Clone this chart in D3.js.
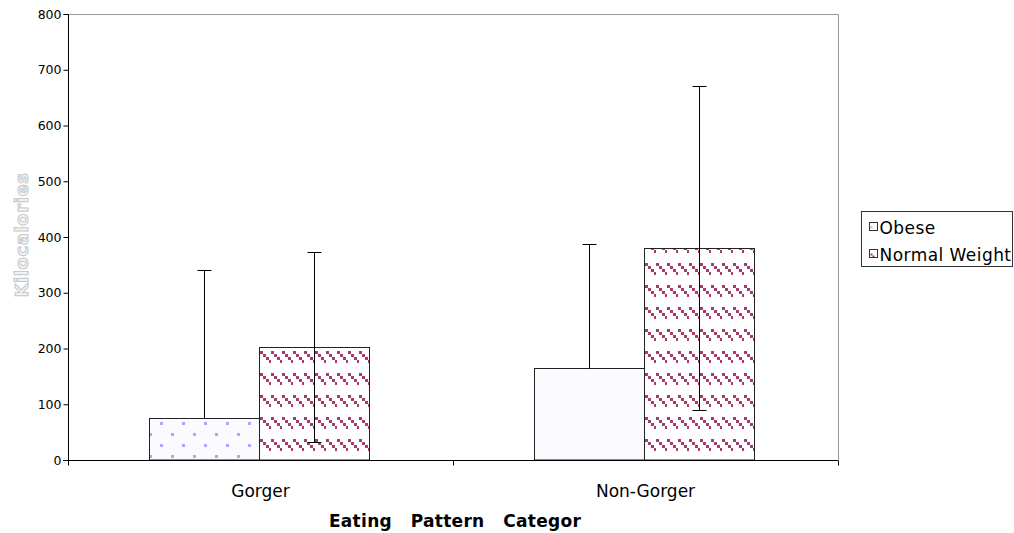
<!DOCTYPE html>
<html>
<head>
<meta charset="utf-8">
<script src="https://cdn.jsdelivr.net/npm/d3@7"></script>
<style>
  html, body { margin: 0; padding: 0; background: #fff; }
  svg { display: block; }
  text { font-family: "DejaVu Sans", sans-serif; }
</style>
</head>
<body>
<svg id="chart" width="1014" height="533"></svg>
<script>
// ---- data ----
const categories = ["Gorger", "Non-Gorger"];
const seriesNames = ["Obese", "Normal Weight"];
const obeseValues = [75, 165];
const obeseErrors = [265, 222];
const normalValues = [203, 380];
const normalErrors = [170, 291];
const yTicks = [0, 100, 200, 300, 400, 500, 600, 700, 800];
const yTitle = "Kilocalories";
const xTitle = "Eating   Pattern   Categor";

const series = [
  { name: seriesNames[0], values: obeseValues, errors: obeseErrors },
  { name: seriesNames[1], values: normalValues, errors: normalErrors }
];

// ---- layout ----
const svg = d3.select("#chart");
const plotL = 68, plotR = 838, plotT = 14, plotB = 460;

const defs = svg.append("defs");
// dotted pattern (Obese)
const pd = defs.append("pattern").attr("id", "dots")
  .attr("patternUnits", "userSpaceOnUse").attr("width", 22).attr("height", 22)
  .attr("x", 0).attr("y", 0);
pd.append("rect").attr("width", 22).attr("height", 22).attr("fill", "#fafaff");
pd.append("rect").attr("x", 6).attr("y", 4).attr("width", 3).attr("height", 3).attr("fill", "#a8a8ff");
pd.append("rect").attr("x", 17).attr("y", 15).attr("width", 3).attr("height", 3).attr("fill", "#a8a8ff");
// stair pattern (Normal Weight)
const ps = defs.append("pattern").attr("id", "stairs")
  .attr("patternUnits", "userSpaceOnUse").attr("width", 11).attr("height", 22)
  .attr("x", 7).attr("y", 21);
ps.append("rect").attr("width", 11).attr("height", 22).attr("fill", "#ffffff");
[[0,0],[3,3],[6,6],[9,9]].forEach(([dx, dy]) => {
  ps.append("rect").attr("x", dx).attr("y", dy).attr("width", 3).attr("height", 3).attr("fill", "#a53c6e");
});
// legend swatch patterns
const lp1 = defs.append("pattern").attr("id", "lgObese")
  .attr("patternUnits", "objectBoundingBox").attr("width", 1).attr("height", 1);
lp1.append("rect").attr("width", 8).attr("height", 8).attr("fill", "#fafaff");
lp1.append("rect").attr("x", 1).attr("y", 4).attr("width", 1.5).attr("height", 1.5).attr("fill", "#8888ff");
const lp2 = defs.append("pattern").attr("id", "lgNormal")
  .attr("patternUnits", "objectBoundingBox").attr("width", 1).attr("height", 1);
lp2.append("rect").attr("width", 8).attr("height", 8).attr("fill", "#fff");
lp2.append("rect").attr("x", 1).attr("y", 4).attr("width", 2).attr("height", 2).attr("fill", "#a53c6e");
lp2.append("rect").attr("x", 3).attr("y", 6).attr("width", 2).attr("height", 2).attr("fill", "#a53c6e");

const obeseFills = ["url(#dots)", "#fafaff"];
const fillFor = (si, ci) => si === 0 ? obeseFills[ci] : "url(#stairs)";

const x0 = d3.scaleBand().domain(categories).range([plotL, plotR]).padding(0);
const x1 = d3.scaleBand().domain(seriesNames).range([-1.5, x0.bandwidth() - 1.5])
  .paddingInner(0).paddingOuter(0.75);
const y = d3.scaleLinear().domain([0, 800]).range([plotB, plotT]);

// plot frame (top & right)
svg.append("path")
  .attr("d", `M${plotL},${plotT + 0.5}H${plotR + 0.5}V${plotB}`)
  .attr("fill", "none").attr("stroke", "#9a9a9a").attr("stroke-width", 1);

// bars
categories.forEach((c, ci) => {
  series.forEach((s, si) => {
    const bx = x0(c) + x1(s.name);
    svg.append("rect")
      .attr("x", Math.round(bx) + 0.5)
      .attr("y", Math.round(y(s.values[ci])) + 0.5)
      .attr("width", x1.bandwidth())
      .attr("height", y(0) - Math.round(y(s.values[ci])) - 0.5)
      .attr("fill", fillFor(si, ci))
      .attr("stroke", "#222").attr("stroke-width", 1);
  });
});

// error bars
categories.forEach((c, ci) => {
  series.forEach((s, si) => {
    const cx = Math.round(x0(c) + x1(s.name) + x1.bandwidth() / 2) + 0.5;
    const v = s.values[ci], e = s.errors[ci];
    const yHi = Math.round(y(v + e)) + 0.5;
    const lowVal = v - e;
    const yLo = lowVal >= 0 ? Math.round(y(lowVal)) + 0.5 : Math.round(y(v)) + 0.5;
    svg.append("line").attr("x1", cx).attr("x2", cx).attr("y1", yHi).attr("y2", yLo)
      .attr("stroke", "#000").attr("stroke-width", 1);
    svg.append("line").attr("x1", cx - 7).attr("x2", cx + 7).attr("y1", yHi).attr("y2", yHi)
      .attr("stroke", "#000").attr("stroke-width", 1);
    if (lowVal >= 0) {
      svg.append("line").attr("x1", cx - 7).attr("x2", cx + 7).attr("y1", yLo).attr("y2", yLo)
        .attr("stroke", "#000").attr("stroke-width", 1);
    }
  });
});

// y axis
const yAxis = svg.append("g").attr("transform", `translate(${plotL + 0.5},0)`)
  .call(d3.axisLeft(y).tickValues(yTicks).tickSize(5).tickPadding(2).tickFormat(d3.format("d")));
yAxis.select(".domain").attr("stroke", "#000").attr("d", `M-5,${plotT}.5H0V${plotB}`);
yAxis.selectAll(".tick line").attr("stroke", "#000");
yAxis.selectAll(".tick text").attr("font-size", 12.5).attr("fill", "#000")
  .style("font-family", "'DejaVu Sans', sans-serif");

// x axis
const boundaries = [plotL, x0(categories[1]), plotR];
const xg = svg.append("g").attr("transform", `translate(0,${plotB + 0.5})`);
xg.append("line").attr("x1", plotL - 5).attr("x2", plotR).attr("stroke", "#000");
xg.selectAll("line.tk").data(boundaries).enter().append("line").attr("class", "tk")
  .attr("x1", d => Math.round(d) + 0.5).attr("x2", d => Math.round(d) + 0.5)
  .attr("y1", 0).attr("y2", 5).attr("stroke", "#000");
xg.selectAll("text").data(categories).enter().append("text")
  .attr("x", d => x0(d) + x0.bandwidth() / 2)
  .attr("y", 36)
  .attr("text-anchor", "middle").attr("font-size", 17).attr("fill", "#000")
  .text(d => d);

// axis titles
svg.append("text")
  .attr("x", 455).attr("y", 527)
  .attr("text-anchor", "middle")
  .attr("font-size", 17).attr("font-weight", "bold")
  .attr("letter-spacing", 0.3)
  .style("white-space", "pre").attr("xml:space", "preserve")
  .attr("fill", "#000")
  .text(xTitle);

svg.append("text")
  .attr("transform", "translate(28,235) rotate(-90)")
  .attr("text-anchor", "middle")
  .attr("font-size", 18).attr("font-weight", "bold")
  .attr("letter-spacing", 0.6)
  .attr("fill", "#f2f2f2").attr("stroke", "#c8c8c8").attr("stroke-width", 1)
  .text(yTitle);

// legend
const lg = svg.append("g").attr("transform", "translate(861.5,211.5)");
lg.append("rect").attr("width", 151).attr("height", 55)
  .attr("fill", "#fff").attr("stroke", "#333");
series.forEach((s, i) => {
  const row = lg.append("g").attr("transform", `translate(8,${11 + i * 27})`);
  row.append("rect").attr("x", 0).attr("y", 0).attr("width", 8).attr("height", 8)
    .attr("fill", i === 0 ? "url(#lgObese)" : "url(#lgNormal)").attr("stroke", "#333");
  row.append("text").attr("x", 10).attr("y", 11)
    .attr("font-size", 17).attr("letter-spacing", 0.45).attr("fill", "#000").text(s.name);
});
</script>
</body>
</html>
